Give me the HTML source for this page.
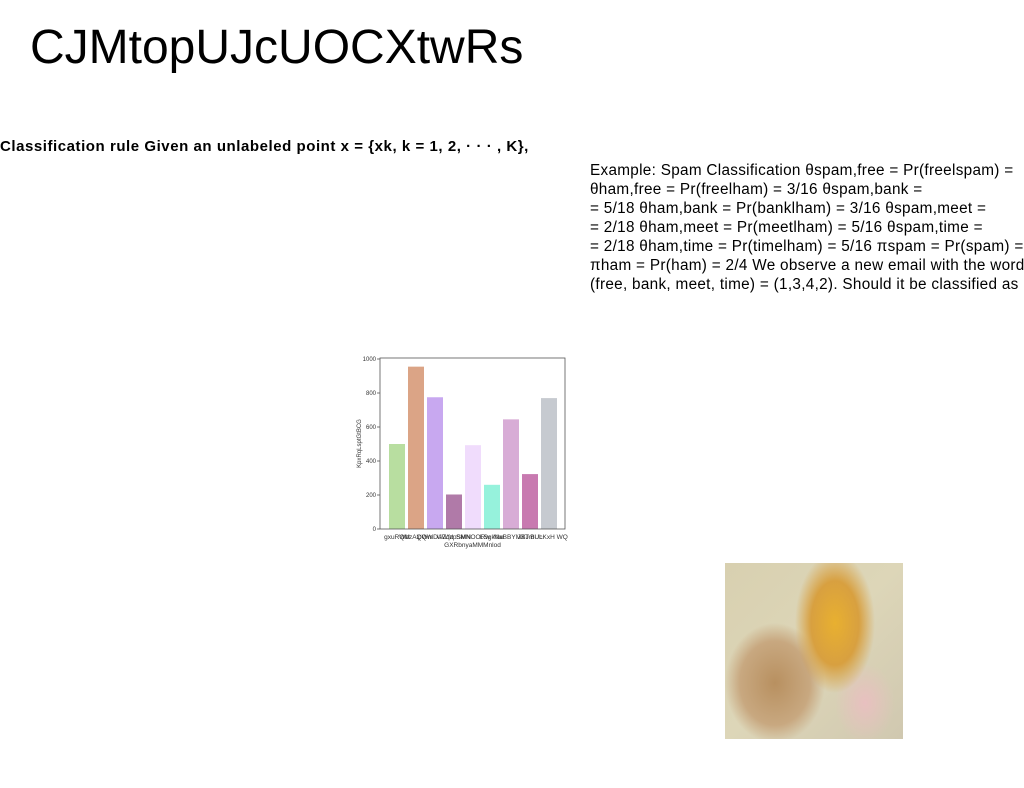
<!DOCTYPE html>
<html><head><meta charset="utf-8"><style>
body{margin:0;width:1024px;height:788px;background:#fff;position:relative;overflow:hidden;font-family:"Liberation Sans",sans-serif;}
#title{position:absolute;left:30px;top:20px;font-size:48px;color:#000;margin:0;font-weight:normal;letter-spacing:0px}
#rule{position:absolute;left:0;top:138px;font-size:15px;font-weight:900;color:#000;white-space:nowrap;letter-spacing:0.55px}
#example{position:absolute;left:590px;top:161px;width:445px;font-size:15.3px;line-height:19px;color:#000;letter-spacing:0.3px}
#photo{position:absolute;left:725px;top:563px;width:178px;height:176px;background:
radial-gradient(ellipse 40px 70px at 110px 60px,#e8b030 0%,#d8a040 60%,transparent 100%),
radial-gradient(ellipse 50px 60px at 50px 120px,#b89060 0%,#c8a880 70%,transparent 100%),
radial-gradient(ellipse 30px 40px at 140px 140px,#e8c0c0 0%,transparent 100%),
linear-gradient(135deg,#d8d0b0,#ddd6b8 50%,#d0c8b0);}
svg{position:absolute;left:0;top:0}
</style></head><body>
<h1 id="title">CJMtopUJcUOCXtwRs</h1>
<div id="rule">Classification rule Given an unlabeled point x = {xk, k = 1, 2, · · · , K},</div>
<div id="example">Example: Spam Classification θspam,free = Pr(freelspam) = θham,free = Pr(freelham) = 3/16 θspam,bank =<br>= 5/18 θham,bank = Pr(banklham) = 3/16 θspam,meet =<br>= 2/18 θham,meet = Pr(meetlham) = 5/16 θspam,time =<br>= 2/18 θham,time = Pr(timelham) = 5/16 πspam = Pr(spam) = πham = Pr(ham) = 2/4 We observe a new email with the word (free, bank, meet, time) = (1,3,4,2). Should it be classified as</div>
<div id="photo"></div>
<svg id="chart" width="1024" height="788"></svg>
<script>
const categories=["gxuRQM","WbzAlpQW","QWmDAZqd","UWfzpSMN","SMNOORw","LSgkNw","NwBBYMBJ","JXTmUL","BUcKxH WQ"];
const values=[500,955,775,203,493,260,645,323,770];
const colors=["#b8dea0","#dba486","#c8a8f0","#b07aa8","#f0dcfc","#96f2dc","#d8acd6","#c87ab0","#c6cad0"];
const yTicks=[0,200,400,600,800,1000];
const NS="http://www.w3.org/2000/svg";
const svg=document.getElementById('chart');
const L=380,R=565,T=358,B=529,yMax=1000;
function y(v){return B-(v/yMax)*(B-T-1);}
const step=19;
const x0=389;
function x(i){return x0+step*i;}
const bw=16;
function mk(t,a){const e=document.createElementNS(NS,t);for(const k in a)e.setAttribute(k,a[k]);svg.appendChild(e);return e;}
values.forEach((v,i)=>{
 const r=mk('rect',{x:x(i),y:y(v),width:bw,height:B-y(v),fill:colors[i]});
 
 
 const t=mk('text',{x:x(i)+bw/2,y:B+10,'font-size':6.5,'text-anchor':'middle',fill:'#333'});
 t.textContent=categories[i];
 
 
});
const frame=mk('rect',{x:L,y:T,width:R-L,height:B-T,fill:'none',stroke:'#555','stroke-width':0.8});


yTicks.forEach(v=>{
 mk('line',{x1:L-3,x2:L,y1:y(v),y2:y(v),stroke:'#555','stroke-width':0.8});
 const t=mk('text',{x:L-4,y:y(v)+2,'font-size':6,'text-anchor':'end',fill:'#333'});
 t.textContent=v;
 
 
});
const xt=mk('text',{x:(L+R)/2,y:B+18,'font-size':6.5,'text-anchor':'middle',fill:'#333'});
xt.textContent='GXRbnyaMMMnlod';


const yt=mk('text',{x:0,y:0,'font-size':6,'text-anchor':'middle',fill:'#333',transform:`translate(${L-19},${(T+B)/2}) rotate(-90)`});
yt.textContent='KpxRqLsptGtBCG';


</script>
</body></html>
